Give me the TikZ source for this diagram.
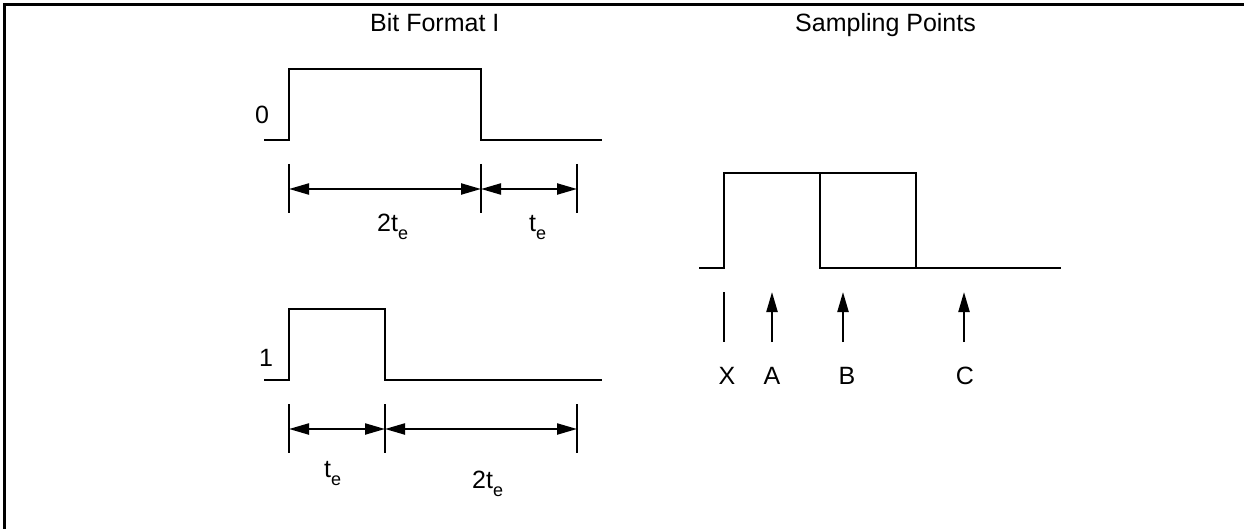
\documentclass[tikz,border=0pt]{standalone}
\usepackage{fontspec}
\setmainfont{Liberation Sans}
\usetikzlibrary{arrows.meta}
\newcommand{\sube}{\raisebox{-8pt}{\fontsize{18}{18}\selectfont e}}
\begin{document}
\begin{tikzpicture}[x=1pt,y=-1pt,
  wave/.style={line width=2.2pt, line join=miter},
  tick/.style={line width=2.2pt},
  dim/.style={line width=2.2pt, {Triangle[length=20pt,width=11pt]}-{Triangle[length=20pt,width=11pt]}},
  uparrow/.style={line width=2.2pt, -{Triangle[length=20pt,width=11pt]}},
  lbl/.style={font=\fontsize{25}{30}\selectfont, inner sep=0pt}]
\useasboundingbox (0,0) rectangle (1244,529);
% frame (cropped)
\draw[line width=2.5pt] (4.7,529) -- (4.7,4.7) -- (1244,4.7);
% titles
\node[lbl, anchor=base west] (t1) at (370,32) {Bit Format I};
\node[lbl, anchor=base west] (t2) at (795,32) {Sampling Points};
% bit 0
\node[lbl] (l0) at (262,115) {0};
\draw[wave] (264,140) -- (289,140) -- (289,69) -- (481,69) -- (481,140) -- (602,140);
\coordinate (a0) at (289,164); \coordinate (a0b) at (289,213);
\coordinate (b0) at (481,164); \coordinate (b0b) at (481,213);
\coordinate (c0) at (577,164); \coordinate (c0b) at (577,213);
\draw[tick] (a0) -- (a0b);
\draw[tick] (b0) -- (b0b);
\draw[tick] (c0) -- (c0b);
\coordinate (da0) at (289,189); \coordinate (db0) at (481,189); \coordinate (dc0) at (577,189);
\draw[dim] (da0) -- (db0);
\draw[dim] (db0) -- (dc0);
\node[lbl, anchor=base west] (d1) at (377,232) {2t\sube};
\node[lbl, anchor=base west] (d2) at (529,232) {t\sube};
% bit 1
\node[lbl] (l1) at (266,358) {1};
\draw[wave] (264,380) -- (289,380) -- (289,309) -- (385,309) -- (385,380) -- (602,380);
\coordinate (a1) at (289,404); \coordinate (a1b) at (289,453);
\coordinate (b1) at (385,404); \coordinate (b1b) at (385,453);
\coordinate (c1) at (577,404); \coordinate (c1b) at (577,453);
\draw[tick] (a1) -- (a1b);
\draw[tick] (b1) -- (b1b);
\draw[tick] (c1) -- (c1b);
\coordinate (da1) at (289,429); \coordinate (db1) at (385,429); \coordinate (dc1) at (577,429);
\draw[dim] (da1) -- (db1);
\draw[dim] (db1) -- (dc1);
\node[lbl, anchor=base west] (d3) at (324,477) {t\sube};
\node[lbl, anchor=base west] (d4) at (472,488) {2t\sube};
% sampling
\draw[wave] (699,268) -- (724,268) -- (724,173) -- (916,173) -- (916,268) -- (1061,268);
\draw[wave] (820,173) -- (820,268) -- (916,268);
\coordinate (xs) at (724,292); \coordinate (xe) at (724,342);
\coordinate (as) at (772,342); \coordinate (ae) at (772,292);
\coordinate (bs) at (843,342); \coordinate (be) at (843,292);
\coordinate (cs) at (964,342); \coordinate (ce) at (964,292);
\draw[tick] (xs) -- (xe);
\draw[uparrow] (as) -- (ae);
\draw[uparrow] (bs) -- (be);
\draw[uparrow] (cs) -- (ce);
\node[lbl] (lx) at (727,376) {X};
\node[lbl] (la) at (772,376) {A};
\node[lbl] (lb) at (847,376) {B};
\node[lbl] (lc) at (965,376) {C};
\end{tikzpicture}
\end{document}
